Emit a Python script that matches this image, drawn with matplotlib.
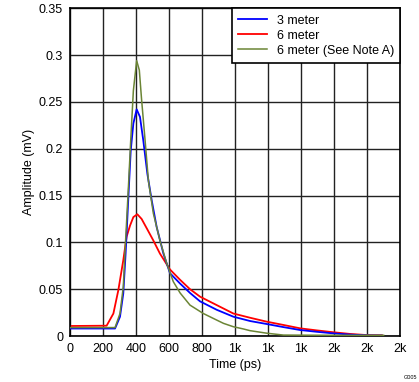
import numpy as np
import matplotlib.pyplot as plt

plt.rcParams['font.family'] = ['Liberation Sans', 'DejaVu Sans']

# time (ps) / amplitude (mV)
t_3m = [0, 273, 303, 323, 337, 354, 368, 384, 404, 424, 444, 469, 495, 525, 566, 606,
        667, 727, 788, 889, 990, 1091, 1192, 1293, 1394, 1495, 1596, 1697, 1798, 1889]
a_3m = [0.008, 0.008, 0.0206, 0.0455, 0.088, 0.149, 0.198, 0.227, 0.242, 0.234, 0.209,
        0.173, 0.145, 0.1165, 0.088, 0.067, 0.056, 0.046, 0.037, 0.028, 0.0206, 0.016,
        0.0128, 0.0095, 0.0064, 0.0045, 0.0028, 0.0015, 0.0007, 0.0005]

t_6m = [0, 222, 263, 293, 323, 343, 364, 384, 408, 434, 465, 505, 545, 606, 667, 727,
        788, 889, 990, 1091, 1192, 1293, 1394, 1495, 1596, 1697, 1798, 1889]
a_6m = [0.0107, 0.011, 0.024, 0.049, 0.081, 0.106, 0.118, 0.127, 0.130, 0.125, 0.115,
        0.102, 0.088, 0.071, 0.060, 0.050, 0.042, 0.033, 0.024, 0.0195, 0.0153, 0.0118,
        0.0082, 0.006, 0.004, 0.0022, 0.001, 0.0008]

t_6m_a = [0, 273, 303, 323, 337, 354, 368, 384, 404, 420, 434, 455, 475, 505, 545, 586,
          626, 667, 727, 808, 889, 930, 990, 1051, 1091, 1192, 1293, 1500, 1700, 1900]
a_6m_a = [0.009, 0.009, 0.024, 0.0526, 0.102, 0.159, 0.209, 0.262, 0.294, 0.284, 0.252,
          0.209, 0.166, 0.131, 0.102, 0.0775, 0.058, 0.046, 0.033, 0.024, 0.017, 0.0135,
          0.0099, 0.0075, 0.0057, 0.003, 0.001, 0.0008, 0.0008, 0.0008]

x_ticks = np.arange(0, 2001, 200)
x_labels = ['0', '200', '400', '600', '800', '1k', '1k', '1k', '2k', '2k', '2k']
y_ticks = np.arange(0, 0.3501, 0.05)
y_labels = ['0', '0.05', '0.1', '0.15', '0.2', '0.25', '0.3', '0.35']

fig = plt.figure(figsize=(4.19, 3.82), dpi=100)
ax = fig.add_axes([0.167, 0.1204, 0.788, 0.858])

ax.plot(t_3m, a_3m, color='#0000FF', lw=1.3, label='3 meter', zorder=3)
ax.plot(t_6m, a_6m, color='#FF0000', lw=1.3, label='6 meter', zorder=2)
ax.plot(t_6m_a, a_6m_a, color='#6B8535', lw=1.1, label='6 meter (See Note A)', zorder=4)

ax.set_xlim(0, 2000)
ax.set_ylim(0, 0.35)
ax.set_xticks(x_ticks)
ax.set_xticklabels(x_labels)
ax.set_yticks(y_ticks)
ax.set_yticklabels(y_labels)
ax.tick_params(length=0, labelsize=9, pad=5)
ax.grid(True, color='#222222', lw=1)
for s in ax.spines.values():
    s.set_color('black')
    s.set_linewidth(1.2)

ax.set_xlabel('Time (ps)', fontsize=9, labelpad=3)
ax.set_ylabel('Amplitude (mV)', fontsize=9, labelpad=3)

leg = ax.legend(loc='upper right', fontsize=9, fancybox=False, framealpha=1,
                edgecolor='black', handlelength=2.3, handletextpad=0.8,
                borderaxespad=0, labelspacing=0.25, borderpad=0.5)
leg.get_frame().set_linewidth(1.2)

fig.text(0.995, 0.005, 'G005', fontsize=4, ha='right', va='bottom')

fig.savefig('out.png', dpi=100)
